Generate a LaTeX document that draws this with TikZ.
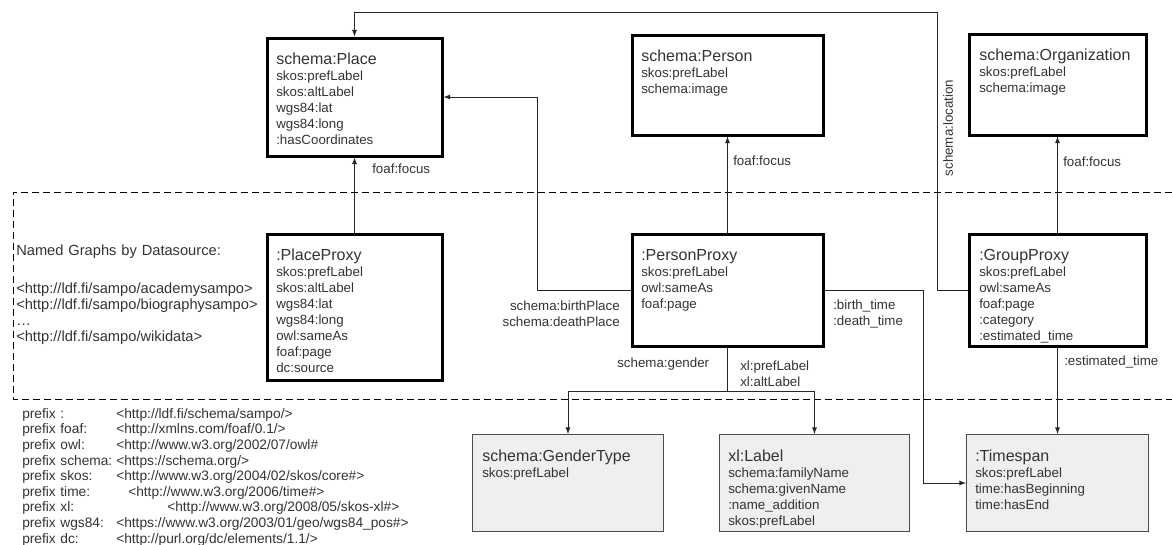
\documentclass[tikz,border=0pt]{standalone}
\usepackage{fontspec}
\setmainfont{Liberation Sans}
\usetikzlibrary{positioning}
\newlength{\du}
\setlength{\du}{0.75pt}
\definecolor{dialinecolor}{rgb}{0.000000, 0.000000, 0.000000}
\definecolor{extfill}{rgb}{0.937000, 0.937000, 0.937000}
\definecolor{textgray}{rgb}{0.200000, 0.200000, 0.200000}
\newcommand{\clsname}[1]{{\fontsize{12}{12}\selectfont #1}}
\tikzset{
  classbox/.style={draw=dialinecolor, line width=3\du, fill=white},
  extbox/.style={draw=black!70, line width=1\du, fill=extfill},
  boxtext/.style={anchor=north west, align=left, inner sep=0pt, text=textgray, font=\fontsize{10}{12}\selectfont},
  elabel/.style={inner sep=0pt, text=textgray, font=\fontsize{10}{12}\selectfont},
  conn/.style={draw=black!85, line width=1\du, -latex},
  notes/.style={anchor=north west, align=left, inner sep=0pt, text=textgray}
}
\begin{document}
\begin{tikzpicture}
\pgftransformxscale{1.000000}
\pgftransformyscale{-1.000000}
\useasboundingbox (0\du,0\du) rectangle (1172\du,544\du);
% named graphs area
\draw[line width=1\du, dash pattern=on 7\du off 4\du] (1172\du,192\du)--(13\du,192\du)--(13\du,399\du)--(1172\du,399\du);
% top row
\node[classbox, minimum width=175\du, minimum height=118\du] (place) at (354.5\du,97\du) {};
\node[boxtext] (place-txt) at (276\du,52.5\du) {\clsname{schema:Place}\\skos:prefLabel\\skos:altLabel\\wgs84:lat\\wgs84:long\\:hasCoordinates};
\node[classbox, minimum width=191\du, minimum height=100\du] (person) at (727.5\du,85\du) {};
\node[boxtext] (person-txt) at (641\du,49.5\du) {\clsname{schema:Person}\\skos:prefLabel\\schema:image};
\node[classbox, minimum width=177\du, minimum height=101\du] (org) at (1057.5\du,84.5\du) {};
\node[boxtext] (org-txt) at (979\du,48.5\du) {\clsname{schema:Organization}\\skos:prefLabel\\schema:image};
% proxies
\node[classbox, minimum width=175\du, minimum height=146\du] (plproxy) at (354.5\du,307\du) {};
\node[boxtext] (plproxy-txt) at (276\du,249\du) {\clsname{:PlaceProxy}\\skos:prefLabel\\skos:altLabel\\wgs84:lat\\wgs84:long\\owl:sameAs\\foaf:page\\dc:source};
\node[classbox, minimum width=191\du, minimum height=112\du] (pproxy) at (727.5\du,290\du) {};
\node[boxtext] (pproxy-txt) at (641\du,249\du) {\clsname{:PersonProxy}\\skos:prefLabel\\owl:sameAs\\foaf:page};
\node[classbox, minimum width=177\du, minimum height=112\du] (grp) at (1057.5\du,290\du) {};
\node[boxtext] (grp-txt) at (979\du,249\du) {\clsname{:GroupProxy}\\skos:prefLabel\\owl:sameAs\\foaf:page\\:category\\:estimated\_time};
% bottom row
\node[extbox, minimum width=191\du, minimum height=97\du] (gender) at (568\du,483\du) {};
\node[boxtext] (gender-txt) at (482\du,450\du) {\clsname{schema:GenderType}\\skos:prefLabel};
\node[extbox, minimum width=190\du, minimum height=97\du] (xlabel) at (814.5\du,483\du) {};
\node[boxtext] (xlabel-txt) at (728\du,450\du) {\clsname{xl:Label}\\schema:familyName\\schema:givenName\\:name\_addition\\skos:prefLabel};
\node[extbox, minimum width=182\du, minimum height=97\du] (ts) at (1057.5\du,483\du) {};
\node[boxtext] (ts-txt) at (975\du,450\du) {\clsname{:Timespan}\\skos:prefLabel\\time:hasBeginning\\time:hasEnd};
% connectors
\coordinate (loc-turn) at (937\du,12\du);
\draw[conn] (grp.west) -| (loc-turn) -| (place.north);
\draw[conn] (plproxy.north) -- (place.south);
\draw[conn] (pproxy.north) -- (person.south);
\draw[conn] (grp.north) -- (org.south);
\coordinate (bp-turn) at (537\du,97\du);
\draw[conn] (pproxy.west) -| (bp-turn) -- (place.east);
\coordinate (bt-turn) at (923\du,290\du);
\draw[conn] (pproxy.east) -- (bt-turn) |- (ts.west);
\draw[conn] (grp.south) -- (ts.north);
\coordinate (gen-split) at (727.5\du,391\du);
\draw[draw=black!85, line width=1\du] (pproxy.south) -- (gen-split);
\draw[conn] (gen-split) -| (gender.north);
\draw[conn] (gen-split) -| (xlabel.north);
% connector labels
\node[elabel, anchor=west] (focus-place) at (372\du,169\du) {foaf:focus};
\node[elabel, anchor=west] (focus-person) at (733\du,161\du) {foaf:focus};
\node[elabel, anchor=west] (focus-org) at (1063\du,162\du) {foaf:focus};
\node[elabel, rotate=90] (location) at (948\du,128\du) {schema:location};
\node[elabel, anchor=east, align=right] (places) at (620\du,314\du) {schema:birthPlace\\schema:deathPlace};
\node[elabel, anchor=west, align=left] (times) at (833\du,314\du) {:birth\_time\\:death\_time};
\node[elabel, anchor=west] (gender-lbl) at (617\du,364\du) {schema:gender};
\node[elabel, anchor=west, align=left] (xl-lbl) at (740\du,374\du) {xl:prefLabel\\xl:altLabel};
\node[elabel, anchor=west] (est-lbl) at (1064\du,362\du) {:estimated\_time};
% datasources and prefixes
\node[notes, text width=245\du, font=\fontsize{11}{12}\selectfont] (graphs) at (16\du,245\du) {Named Graphs by Datasource:\\[16.5pt]<http://ldf.fi/sampo/academysampo>\\<http://ldf.fi/sampo/biographysampo>\\…\\<http://ldf.fi/sampo/wikidata>};
\node[notes, text width=92\du, font=\fontsize{10.3}{11.7}\selectfont] (prefix-keys) at (22\du,408\du) {prefix :\\prefix foaf:\\prefix owl:\\prefix schema:\\prefix skos:\\prefix time:\\prefix xl:\\prefix wgs84:\\prefix dc:};
\node[notes, text width=300\du, font=\fontsize{10.3}{11.7}\selectfont] (prefix-iris) at (116\du,408\du) {<http://ldf.fi/schema/sampo/>\\<http://xmlns.com/foaf/0.1/>\\<http://www.w3.org/2002/07/owl\#\\<https://schema.org/>\\<http://www.w3.org/2004/02/skos/core\#>\\\hspace*{12\du}<http://www.w3.org/2006/time\#>\\\hspace*{51\du}<http://www.w3.org/2008/05/skos-xl\#>\\<https://www.w3.org/2003/01/geo/wgs84\_pos\#>\\<http://purl.org/dc/elements/1.1/>};
\end{tikzpicture}
\end{document}
